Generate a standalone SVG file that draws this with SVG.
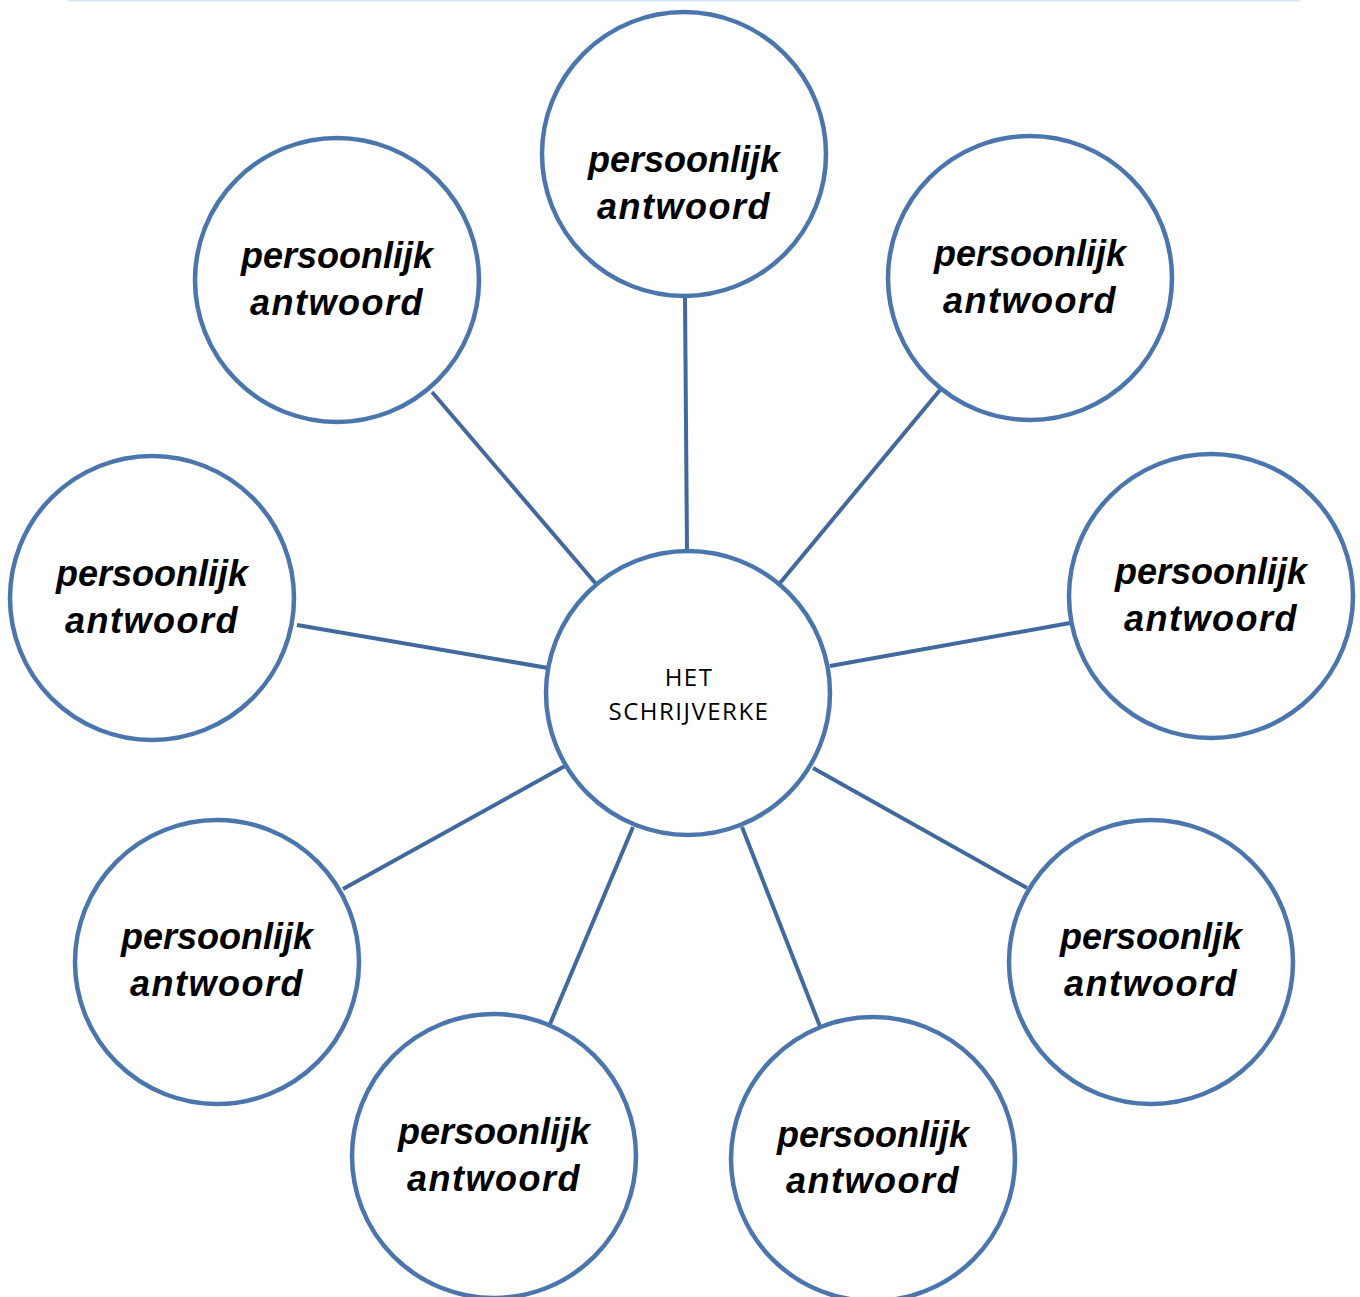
<svg xmlns="http://www.w3.org/2000/svg" width="1360" height="1297" viewBox="0 0 1360 1297">
<style>
.n{fill:#fff;stroke:#4a76ad;stroke-width:4.5}
.c{stroke:#41699d;stroke-width:4;fill:none}
.t{font-family:"Liberation Sans",Arial,sans-serif;font-weight:bold;font-style:italic;font-size:36px;fill:#000;text-anchor:middle}
.a{letter-spacing:1.5px}
.m{font-family:"Open Sans","Liberation Sans",sans-serif;font-size:24px;letter-spacing:1.5px;fill:#000;text-anchor:middle}
</style>
<rect width="1360" height="1297" fill="#fff"/>
<line x1="68" y1="0.5" x2="1300" y2="0.5" stroke="#d6e3f2" stroke-width="2"/>
<g id="connectors">
<line class="c" x1="685" y1="297" x2="687" y2="551"/>
<line class="c" x1="432" y1="392" x2="597" y2="585"/>
<line class="c" x1="940" y1="390" x2="780" y2="583"/>
<line class="c" x1="297" y1="625" x2="548" y2="668"/>
<line class="c" x1="1070" y1="623" x2="830" y2="666"/>
<line class="c" x1="343" y1="889" x2="565" y2="766"/>
<line class="c" x1="1027" y1="888" x2="813" y2="768"/>
<line class="c" x1="550" y1="1024" x2="633" y2="827"/>
<line class="c" x1="821" y1="1029" x2="742" y2="827"/>
</g>
<g id="center"><circle class="n" cx="688" cy="693" r="142"/><text class="m" x="689" y="686">HET</text><text class="m" x="689" y="720">SCHRIJVERKE</text></g>
<g id="top"><circle class="n" cx="684" cy="154" r="142"/><text class="t" x="684" y="172">persoonlijk</text><text class="t a" x="684" y="219">antwoord</text></g>
<g id="topleft"><circle class="n" cx="337" cy="280" r="142"/><text class="t" x="337" y="268">persoonlijk</text><text class="t a" x="337" y="315">antwoord</text></g>
<g id="topright"><circle class="n" cx="1030" cy="278" r="142"/><text class="t" x="1030" y="266">persoonlijk</text><text class="t a" x="1030" y="313">antwoord</text></g>
<g id="left"><circle class="n" cx="152" cy="598" r="142"/><text class="t" x="152" y="586">persoonlijk</text><text class="t a" x="152" y="633">antwoord</text></g>
<g id="right"><circle class="n" cx="1211" cy="596" r="142"/><text class="t" x="1211" y="584">persoonlijk</text><text class="t a" x="1211" y="631">antwoord</text></g>
<g id="bottomleft"><circle class="n" cx="217" cy="962" r="142"/><text class="t" x="217" y="949">persoonlijk</text><text class="t a" x="217" y="996">antwoord</text></g>
<g id="bottomright"><circle class="n" cx="1151" cy="962" r="142"/><text class="t" x="1151" y="949">persoonljk</text><text class="t a" x="1151" y="996">antwoord</text></g>
<g id="bottommidleft"><circle class="n" cx="494" cy="1156" r="142"/><text class="t" x="494" y="1144">persoonlijk</text><text class="t a" x="494" y="1191">antwoord</text></g>
<g id="bottommidright"><circle class="n" cx="873" cy="1159" r="142"/><text class="t" x="873" y="1147">persoonlijk</text><text class="t a" x="873" y="1193">antwoord</text></g>
</svg>
